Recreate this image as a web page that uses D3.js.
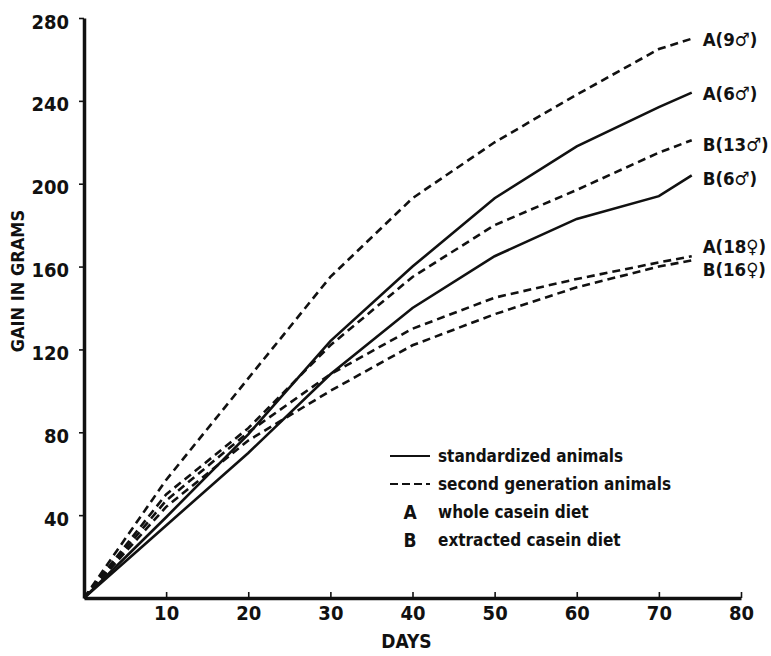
<!DOCTYPE html>
<html>
<head>
<meta charset="utf-8">
<script src="https://cdn.jsdelivr.net/npm/d3@7"></script>
<style>
  html, body { margin: 0; padding: 0; background: #fff; }
  svg text { font-family: "DejaVu Sans Condensed", "DejaVu Sans", sans-serif; font-weight: bold; fill: #111; }
</style>
</head>
<body>
<div id="chart"></div>
<script>
// days measured
const days = [0, 10, 20, 30, 40, 50, 60, 70, 74];

// gain in grams per group
const a9Male   = [0, 57, 106, 155, 193, 220, 243, 265, 270];
const a6Male   = [0, 39, 79, 124, 160, 193, 218, 237, 244];
const b13Male  = [0, 50, 82, 122, 155, 180, 197, 215, 221];
const b6Male   = [0, 35, 70, 108, 140, 165, 183, 194, 204];
const a18Fem   = [0, 47, 80, 108, 130, 145, 154, 162, 165];
const b16Fem   = [0, 44, 76, 100, 122, 137, 150, 160, 163];

const seriesNames = ['A(9♂)', 'A(6♂)', 'B(13♂)', 'B(6♂)', 'A(18♀)', 'B(16♀)'];
const seriesValues = [a9Male, a6Male, b13Male, b6Male, a18Fem, b16Fem];
const seriesDashed = [true, false, true, false, true, true];

const xTicks = [10, 20, 30, 40, 50, 60, 70, 80];
const yTicks = [40, 80, 120, 160, 200, 240, 280];

const legendRows = [
  { key: 'solid', text: 'standardized animals' },
  { key: 'dash', text: 'second generation animals' },
  { key: 'A', text: 'whole casein diet' },
  { key: 'B', text: 'extracted casein diet' }
];

const W = 771, H = 656;
const svg = d3.select('#chart').append('svg').attr('width', W).attr('height', H);

const x = d3.scaleLinear().domain([0, 80]).range([84, 741]);
const y = d3.scaleLinear().domain([0, 280]).range([598, 18]);

// axes
const xAxis = svg.append('g')
  .attr('transform', `translate(0,${y(0)})`)
  .call(d3.axisBottom(x).tickValues(xTicks).tickSize(-6).tickSizeOuter(0).tickPadding(12));
xAxis.select('.domain').attr('stroke', '#111').attr('stroke-width', 3.5);
xAxis.selectAll('.tick line').attr('stroke', '#111').attr('stroke-width', 1.6);
xAxis.selectAll('.tick text').attr('font-size', 20).attr('dy', '0.5em');

const yAxis = svg.append('g')
  .attr('transform', `translate(${x(0)},0)`)
  .call(d3.axisLeft(y).tickValues(yTicks).tickSize(5).tickSizeOuter(0).tickPadding(10));
yAxis.select('.domain').attr('stroke', '#111').attr('stroke-width', 3.5);
yAxis.selectAll('.tick line').attr('stroke', '#111').attr('stroke-width', 1.6);
yAxis.selectAll('.tick text').attr('font-size', 20).attr('dy', '0.5em');

svg.append('text')
  .attr('x', x(40) - 6)
  .attr('y', 648)
  .attr('text-anchor', 'middle')
  .attr('font-size', 19)
  .text('DAYS');

svg.append('text')
  .attr('transform', `translate(24,${y(153)}) rotate(-90)`)
  .attr('text-anchor', 'middle')
  .attr('font-size', 18)
  .text('GAIN IN GRAMS');

// series lines
const line = d3.line().x((d, i) => x(days[i])).y(d => y(d));

svg.selectAll('.series')
  .data(seriesValues)
  .enter()
  .append('path')
  .attr('class', 'series')
  .attr('d', d => line(d))
  .attr('fill', 'none')
  .attr('stroke', '#111')
  .attr('stroke-width', 2.6)
  .attr('stroke-dasharray', (d, i) => seriesDashed[i] ? '8,5' : null);

// end labels, the two female groups are pushed apart
const labelNudge = { 'B(13♂)': 4, 'B(6♂)': 3, 'A(18♀)': -10, 'B(16♀)': 9 };
svg.selectAll('.end-label')
  .data(seriesNames)
  .enter()
  .append('text')
  .attr('class', 'end-label')
  .attr('x', x(74) + 11)
  .attr('y', (d, i) => y(seriesValues[i][seriesValues[i].length - 1]) + (labelNudge[d] || 0))
  .attr('dy', '0.38em')
  .attr('font-size', 18.5)
  .text(d => d);

// legend
const legend = svg.append('g').attr('transform', 'translate(390,456)');
const rowGap = 28;
legendRows.forEach((r, i) => {
  const yy = i * rowGap;
  if (r.key === 'solid' || r.key === 'dash') {
    legend.append('line')
      .attr('x1', 0).attr('x2', 40)
      .attr('y1', yy).attr('y2', yy)
      .attr('stroke', '#111')
      .attr('stroke-width', 2)
      .attr('stroke-dasharray', r.key === 'dash' ? '8,4' : null);
  } else {
    legend.append('text')
      .attr('x', 20).attr('y', yy)
      .attr('dy', '0.38em')
      .attr('text-anchor', 'middle')
      .attr('font-size', 19)
      .text(r.key);
  }
  legend.append('text')
    .attr('x', 48).attr('y', yy)
    .attr('dy', '0.38em')
    .attr('font-size', 17)
    .text(r.text);
});
</script>
</body>
</html>
